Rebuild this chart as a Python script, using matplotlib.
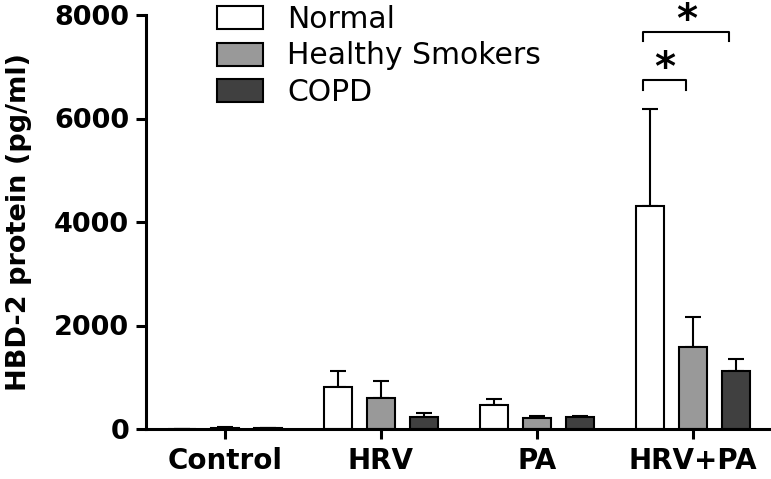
import numpy as np
import matplotlib.pyplot as plt

plt.rcParams['font.family'] = ['DejaVu Sans']

# Data (pg/ml)
groups = ['Control', 'HRV', 'PA', 'HRV+PA']
series = ['Normal', 'Healthy Smokers', 'COPD']
normal = [0, 810, 460, 4310]
normal_err = [0, 310, 120, 1880]
smokers = [15, 600, 210, 1580]
smokers_err = [30, 330, 40, 580]
copd = [10, 230, 230, 1120]
copd_err = [8, 80, 20, 230]

colors = ['white', '#999999', '#404040']

fig = plt.figure(figsize=(7.71, 4.79), dpi=100)
ax = fig.add_axes([146 / 771, 1 - 429 / 479, 623 / 771, 414 / 479])

x = np.arange(len(groups))
width = 0.18
offset = 0.276

for i, (vals, errs, c, lab) in enumerate(zip([normal, smokers, copd],
                                              [normal_err, smokers_err, copd_err],
                                              colors, series)):
    ax.bar(x + (i - 1) * offset, vals, width, color=c, edgecolor='black',
           linewidth=1.5, label=lab, zorder=2)
    ax.errorbar(x + (i - 1) * offset, vals, yerr=[np.zeros(len(vals)), errs],
                fmt='none', ecolor='black', elinewidth=1.5, capsize=5.5,
                capthick=1.5, zorder=1)

ax.set_xlim(-0.507, 3.49)
ax.set_ylim(0, 8000)
ax.set_yticks([0, 2000, 4000, 6000, 8000])
ax.set_xticks(x)
ax.set_xticklabels(groups, fontsize=20, fontweight='bold')
for t in ax.get_yticklabels():
    t.set_fontsize(19.5)
    t.set_fontweight('bold')
ax.set_ylabel('HBD-2 protein (pg/ml)', fontsize=19.5, fontweight='bold', labelpad=16)

ax.spines['top'].set_visible(False)
ax.spines['right'].set_visible(False)
ax.spines['left'].set_linewidth(2.2)
ax.spines['bottom'].set_linewidth(2.2)
ax.tick_params(axis='both', width=2.2, length=7)
ax.tick_params(axis='y', pad=5)
ax.tick_params(axis='x', pad=6)

# significance brackets
def bracket(x1, x2, y, h):
    ax.plot([x1, x1, x2, x2], [y - h, y, y, y - h], color='black', lw=1.5,
            clip_on=False)
    ax.annotate('*', xy=((x1 + x2) / 2, y), xytext=(0, 0),
                textcoords='offset points', ha='center', va='baseline',
                fontsize=29, fontweight='bold', annotation_clip=False)

bracket(3 - offset - 0.04, 3 - 0.04, 6740, 190)
bracket(3 - offset - 0.04, 3 + offset - 0.04, 7670, 180)

leg = ax.legend(loc='upper left', bbox_to_anchor=(217 / 771, 1 - 5 / 479),
                bbox_transform=fig.transFigure, frameon=False,
                fontsize=21.5, handlelength=1.53, handleheight=0.8,
                labelspacing=0.25, handletextpad=0.83, borderpad=0,
                borderaxespad=0)

fig.savefig('out.png', dpi=100)
